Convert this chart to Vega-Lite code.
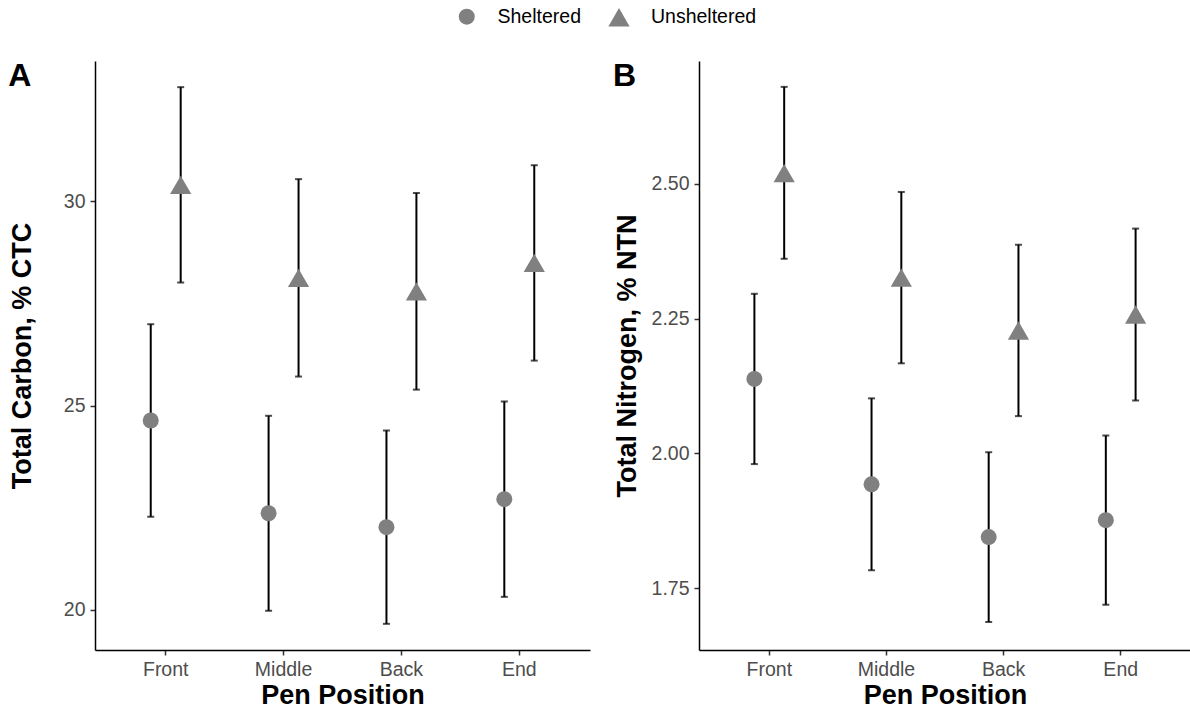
{
  "$schema": "https://vega.github.io/schema/vega-lite/v6.json",
  "padding": {"left": 8, "top": 6, "right": 0, "bottom": 4},
  "background": "white",
  "datasets": {
    "pens": [
      {"position": "Front", "shelter": "Sheltered", "carbon": 24.635, "carbonLo": 22.28, "carbonHi": 26.99, "nitrogen": 2.138, "nitrogenLo": 1.980, "nitrogenHi": 2.296},
      {"position": "Front", "shelter": "Unsheltered", "carbon": 30.40, "carbonLo": 28.01, "carbonHi": 32.79, "nitrogen": 2.520, "nitrogenLo": 2.361, "nitrogenHi": 2.680},
      {"position": "Middle", "shelter": "Sheltered", "carbon": 22.365, "carbonLo": 19.98, "carbonHi": 24.75, "nitrogen": 1.9425, "nitrogenLo": 1.783, "nitrogenHi": 2.102},
      {"position": "Middle", "shelter": "Unsheltered", "carbon": 28.125, "carbonLo": 25.71, "carbonHi": 30.54, "nitrogen": 2.326, "nitrogenLo": 2.167, "nitrogenHi": 2.485},
      {"position": "Back", "shelter": "Sheltered", "carbon": 22.025, "carbonLo": 19.66, "carbonHi": 24.39, "nitrogen": 1.8445, "nitrogenLo": 1.687, "nitrogenHi": 2.002},
      {"position": "Back", "shelter": "Unsheltered", "carbon": 27.795, "carbonLo": 25.39, "carbonHi": 30.20, "nitrogen": 2.228, "nitrogenLo": 2.069, "nitrogenHi": 2.387},
      {"position": "End", "shelter": "Sheltered", "carbon": 22.71, "carbonLo": 20.32, "carbonHi": 25.10, "nitrogen": 1.876, "nitrogenLo": 1.719, "nitrogenHi": 2.033},
      {"position": "End", "shelter": "Unsheltered", "carbon": 28.49, "carbonLo": 26.10, "carbonHi": 30.88, "nitrogen": 2.2575, "nitrogenLo": 2.098, "nitrogenHi": 2.417}
    ]
  },
  "spacing": 23,
  "hconcat": [
    {
      "width": 495,
      "height": 589,
      "title": {"text": "A"},
      "data": {"name": "pens"},
      "encoding": {
        "x": {
          "field": "position", "type": "nominal",
          "sort": ["Front", "Middle", "Back", "End"],
          "scale": {"paddingInner": 0, "paddingOuter": 0.1},
          "title": "Pen Position"
        },
        "xOffset": {
          "field": "shelter", "type": "nominal",
          "scale": {"paddingInner": 0, "paddingOuter": 0.967}
        }
      },
      "layer": [
        {
          "mark": {"type": "rule", "color": "black", "strokeWidth": 2},
          "encoding": {
            "y": {"field": "carbonLo", "type": "quantitative", "scale": {"domain": [19.02, 33.43], "nice": false, "zero": false},
                  "axis": {"values": [20, 25, 30], "titlePadding": 27}, "title": "Total Carbon, % CTC"},
            "y2": {"field": "carbonHi"}
          }
        },
        {
          "mark": {"type": "tick", "color": "black", "size": 7, "thickness": 2},
          "encoding": {
            "y": {"field": "carbonLo", "type": "quantitative", "title": "Total Carbon, % CTC"}
          }
        },
        {
          "mark": {"type": "tick", "color": "black", "size": 7, "thickness": 2},
          "encoding": {
            "y": {"field": "carbonHi", "type": "quantitative", "title": "Total Carbon, % CTC"}
          }
        },
        {
          "mark": {"type": "point", "filled": true, "color": "#808080", "opacity": 1},
          "encoding": {
            "y": {"field": "carbon", "type": "quantitative", "title": "Total Carbon, % CTC"},
            "shape": {"field": "shelter", "type": "nominal", "scale": {"domain": ["Sheltered", "Unsheltered"], "range": ["circle", "triangle-up"]}, "title": null},
            "size": {"field": "shelter", "type": "nominal", "scale": {"domain": ["Sheltered", "Unsheltered"], "range": [256, 450]}, "title": null}
          }
        }
      ]
    },
    {
      "width": 492,
      "height": 589,
      "title": {"text": "B"},
      "data": {"name": "pens"},
      "encoding": {
        "x": {
          "field": "position", "type": "nominal",
          "sort": ["Front", "Middle", "Back", "End"],
          "scale": {"paddingInner": 0, "paddingOuter": 0.1},
          "title": "Pen Position"
        },
        "xOffset": {
          "field": "shelter", "type": "nominal",
          "scale": {"paddingInner": 0, "paddingOuter": 0.967}
        }
      },
      "layer": [
        {
          "mark": {"type": "rule", "color": "black", "strokeWidth": 2},
          "encoding": {
            "y": {"field": "nitrogenLo", "type": "quantitative", "scale": {"domain": [1.635, 2.728], "nice": false, "zero": false},
                  "axis": {"values": [1.75, 2.0, 2.25, 2.5], "format": ".2f", "titlePadding": 10}, "title": "Total Nitrogen, % NTN"},
            "y2": {"field": "nitrogenHi"}
          }
        },
        {
          "mark": {"type": "tick", "color": "black", "size": 7, "thickness": 2},
          "encoding": {
            "y": {"field": "nitrogenLo", "type": "quantitative", "title": "Total Nitrogen, % NTN"}
          }
        },
        {
          "mark": {"type": "tick", "color": "black", "size": 7, "thickness": 2},
          "encoding": {
            "y": {"field": "nitrogenHi", "type": "quantitative", "title": "Total Nitrogen, % NTN"}
          }
        },
        {
          "mark": {"type": "point", "filled": true, "color": "#808080", "opacity": 1},
          "encoding": {
            "y": {"field": "nitrogen", "type": "quantitative", "title": "Total Nitrogen, % NTN"},
            "shape": {"field": "shelter", "type": "nominal", "scale": {"domain": ["Sheltered", "Unsheltered"], "range": ["circle", "triangle-up"]}, "title": null},
            "size": {"field": "shelter", "type": "nominal", "scale": {"domain": ["Sheltered", "Unsheltered"], "range": [256, 450]}, "title": null}
          }
        }
      ]
    }
  ],
  "resolve": {
    "scale": {"x": "independent", "xOffset": "independent", "y": "independent", "shape": "shared", "size": "shared"},
    "legend": {"shape": "shared", "size": "shared"}
  },
  "config": {
    "font": "Liberation Sans",
    "view": {"stroke": null},
    "title": {"fontSize": 32, "fontWeight": "bold", "color": "black", "anchor": "start", "frame": "bounds", "baseline": "bottom", "offset": -32},
    "axis": {
      "grid": false,
      "domainColor": "black", "domainWidth": 1.5,
      "tickColor": "#333333", "tickWidth": 1.5, "tickSize": 5,
      "labelFontSize": 19.5, "labelColor": "#4d4d4d", "labelPadding": 5,
      "titleFontSize": 27, "titleFontWeight": "bold", "titleColor": "black"
    },
    "axisX": {"labelAngle": 0, "titlePadding": 4},
    "legend": {
      "orient": "none", "legendX": 362, "legendY": -55,
      "direction": "horizontal",
      "labelFontSize": 19.5, "labelColor": "black", "labelOffset": 21,
      "columnPadding": 27,
      "symbolFillColor": "#808080", "symbolStrokeColor": "#808080", "symbolStrokeWidth": 0
    }
  }
}
